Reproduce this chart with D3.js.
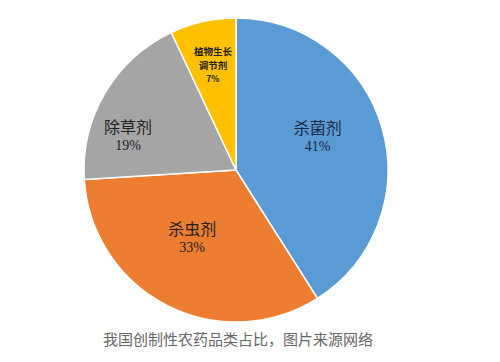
<!DOCTYPE html>
<html>
<head>
<meta charset="utf-8">
<script src="https://cdn.jsdelivr.net/npm/d3@7"></script>
<style>
  html, body { margin: 0; padding: 0; background: #fff; }
  #pie-chart { width: 500px; height: 362px; }
</style>
</head>
<body>
<div id="pie-chart"></div>
<script>
// Pie chart of pesticide categories

// Data
const categories = ["杀菌剂", "杀虫剂", "除草剂", "植物生长调节剂"];
const shares = [41, 33, 19, 7];
const caption = "我国创制性农药品类占比，图片来源网络";

const colors = ["#5b9bd5", "#ed7d31", "#a5a5a5", "#ffc000"];

var width = 500;
var height = 362;
var cx = 236;
var cy = 170;
var radius = 152;

var svg = d3
  .select("#pie-chart")
  .append("svg")
  .attr("width", width)
  .attr("height", height);

var g = svg
  .append("g")
  .attr("transform", "translate(" + cx + "," + cy + ")");

var pie = d3.pie().sort(null).value(function (d) {
  return d.value;
});

var data = categories.map(function (c, i) {
  return { name: c, value: shares[i], color: colors[i] };
});

var arcs = pie(data);

var arc = d3.arc().innerRadius(0).outerRadius(radius);

g.selectAll("path")
  .data(arcs)
  .enter()
  .append("path")
  .attr("d", arc)
  .attr("fill", function (d) {
    return d.data.color;
  })
  .attr("stroke", "#fff")
  .attr("stroke-width", 1.5);

// Label placement: radius as a fraction of the pie radius,
// angle as a fraction of the way through each slice
var labelRadius = [0.58, 0.53, 0.745, 0.71];
var labelAngle = [0.46, 0.55, 0.31, 0.51];

arcs.forEach(function (d, i) {
  var a = d.startAngle + (d.endAngle - d.startAngle) * labelAngle[i];
  var r = radius * labelRadius[i];
  var x = Math.sin(a) * r;
  var y = -Math.cos(a) * r;

  if (i == 3) {
    // small slice: three stacked lines
    var lines = ["植物生长", "调节剂", d.data.value + "%"];
    var offs = [-9.5, 4.5, 17.5];
    lines.forEach(function (l, k) {
      g.append("text")
        .attr("text-anchor", "middle")
        .attr("x", x)
        .attr("y", y + offs[k])
        .attr("font-family", "'Noto Sans CJK SC', sans-serif")
        .attr("font-weight", "bold")
        .attr("font-size", k == 2 ? 8.5 : 9.5)
        .attr("fill", "#222")
        .text(l);
    });
  } else {
    var t = g
      .append("text")
      .attr("text-anchor", "middle")
      .attr("fill", i == 0 ? "#1c2a44" : "#222");
    t.append("tspan")
      .attr("x", x)
      .attr("y", y - 3)
      .attr("font-family", "'Noto Sans CJK SC', sans-serif")
      .attr("font-size", 16)
      .text(d.data.name);
    t.append("tspan")
      .attr("x", x)
      .attr("y", y + 14)
      .attr("font-family", "'Liberation Serif', 'DejaVu Serif', serif")
      .attr("font-size", 14)
      .text(d.data.value + "%");
  }
});

// Caption
svg
  .append("text")
  .attr("x", 238)
  .attr("y", 345)
  .attr("text-anchor", "middle")
  .attr("font-family", "'Noto Sans CJK SC', sans-serif")
  .attr("font-size", 15)
  .attr("fill", "#666")
  .text(caption);
</script>
</body>
</html>
